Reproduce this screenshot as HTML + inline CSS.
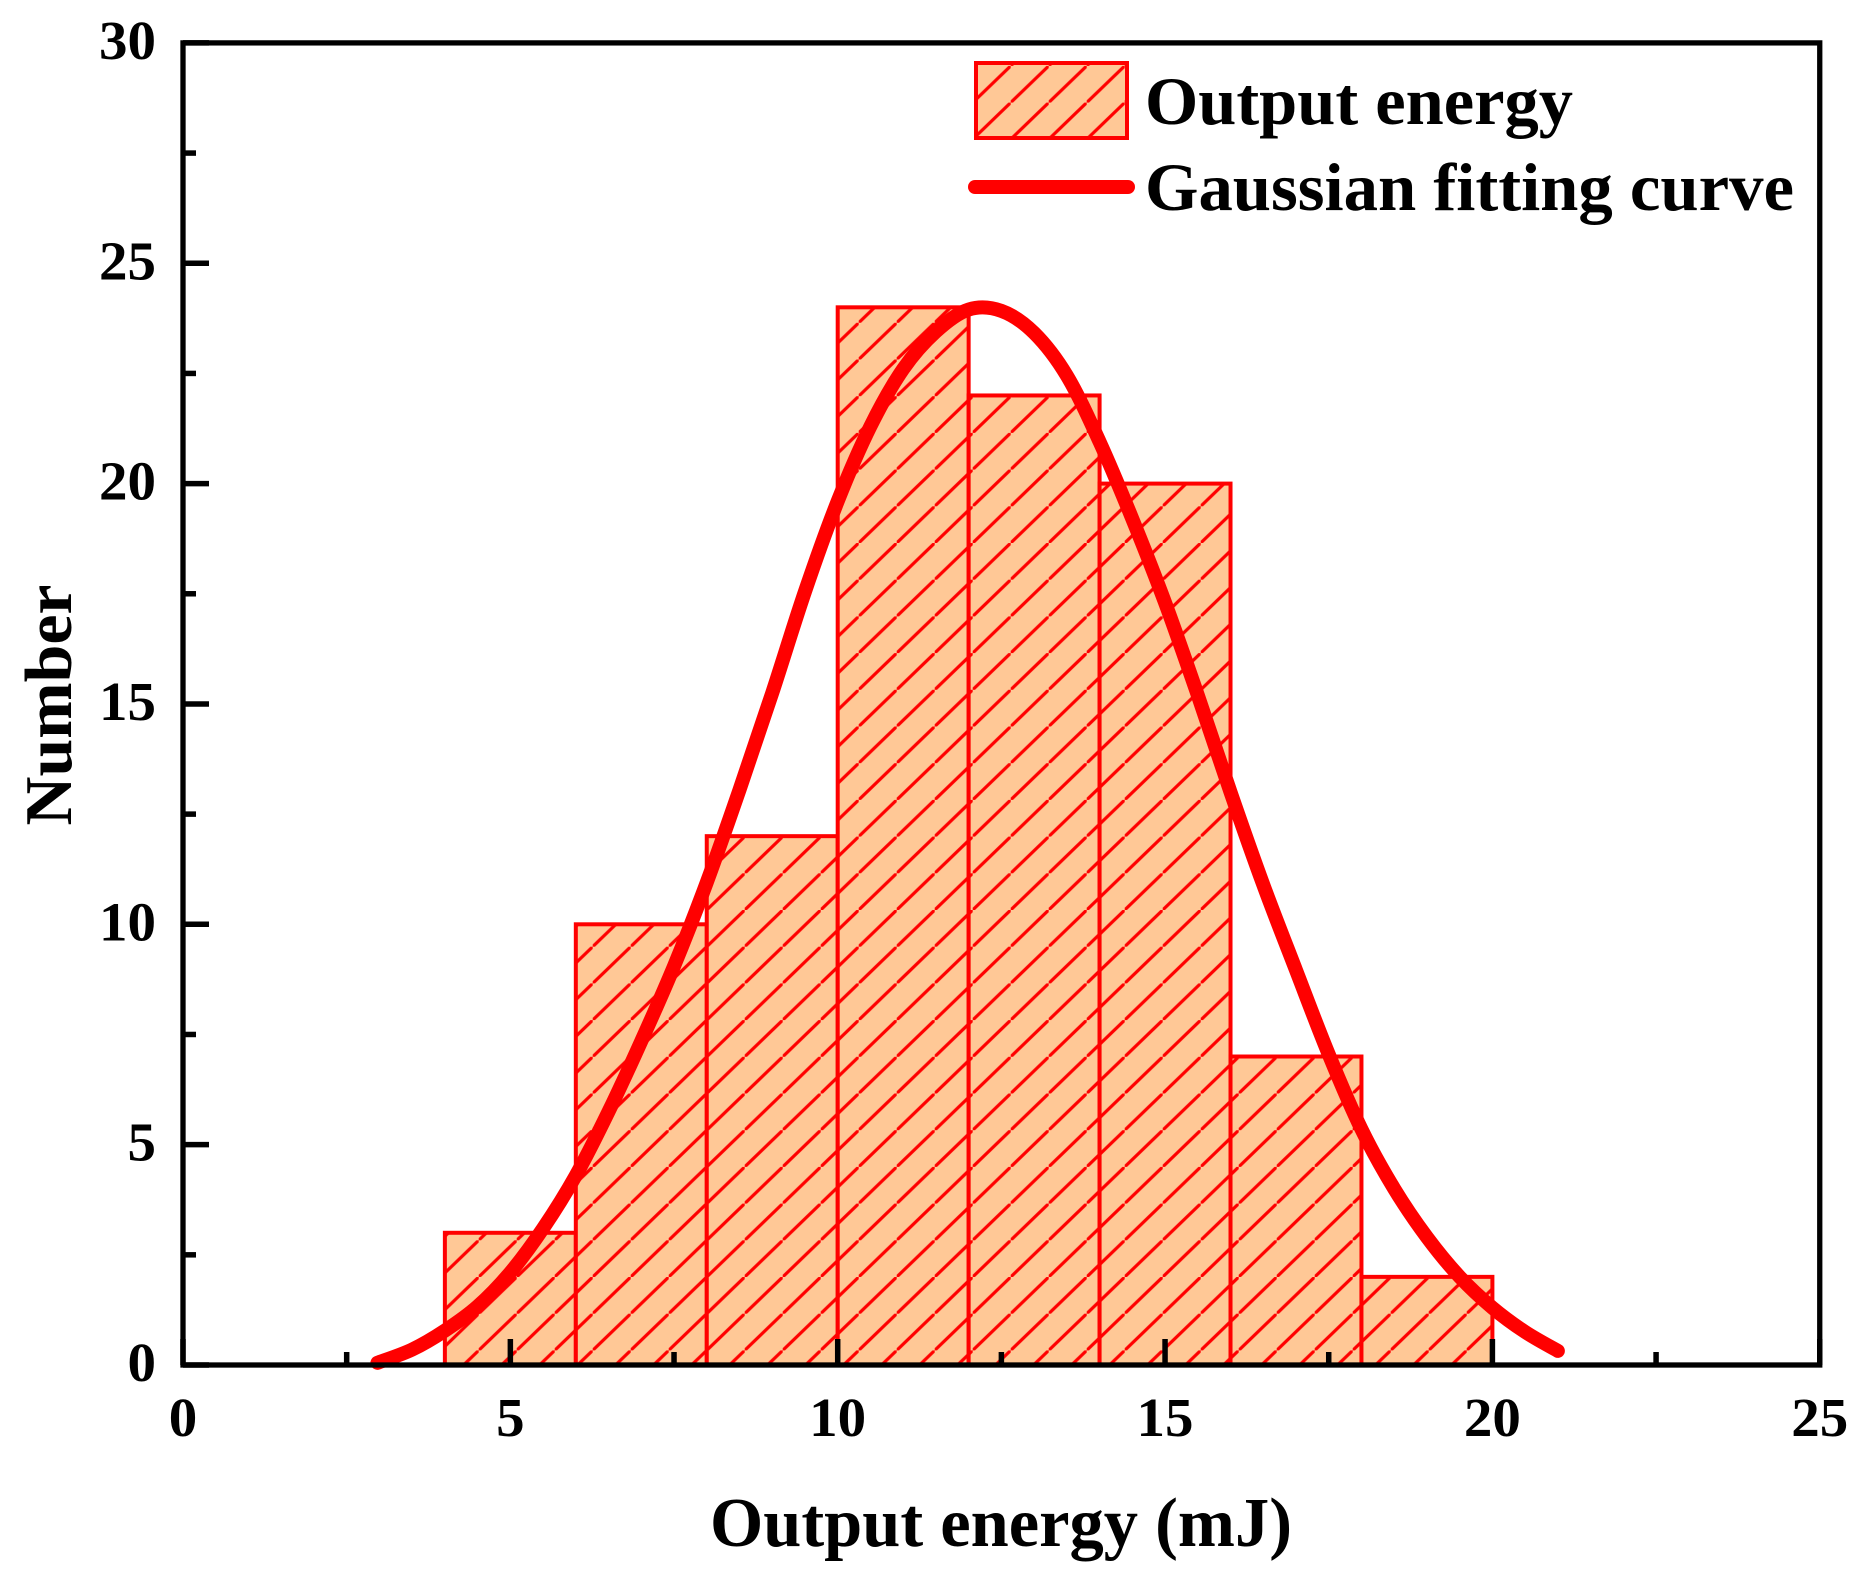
<!DOCTYPE html>
<html lang="en">
<head>
<meta charset="utf-8">
<title>Output energy histogram</title>
<style>
html,body{margin:0;padding:0;background:#fff;}
svg{display:block;}
text{font-family:"Liberation Serif",serif;font-weight:bold;fill:#000;}
</style>
</head>
<body>
<svg id="chart" xmlns="http://www.w3.org/2000/svg" width="1869" height="1581" viewBox="0 0 1869 1581">
<defs>
<pattern id="hatch" patternUnits="userSpaceOnUse" x="706.7" y="910" width="38" height="36.7">
<rect width="38" height="36.7" fill="#FFC896"/>
<path d="M-6 42.5L0 36.7L38 0L44 -5.8" stroke="#ff0000" stroke-width="3.2" fill="none"/>
</pattern>
</defs>
<g id="bars"></g>
<path id="curve" fill="none" stroke="#ff0000" stroke-width="14" stroke-linecap="round" stroke-linejoin="round"/>
<g id="axes"></g>
<g id="labels"></g>
<text x="1001" y="1546" text-anchor="middle" font-size="70" textLength="582" lengthAdjust="spacingAndGlyphs">Output energy (mJ)</text>
<text transform="translate(71 705) rotate(-90)" text-anchor="middle" font-size="67" textLength="241" lengthAdjust="spacingAndGlyphs">Number</text>
<g>
<rect x="976" y="63" width="151" height="75" fill="url(#hatch)" stroke="#ff0000" stroke-width="4"/>
<text x="1145" y="124" font-size="68" textLength="428" lengthAdjust="spacingAndGlyphs">Output energy</text>
<line x1="975" y1="187" x2="1128" y2="187" stroke="#ff0000" stroke-width="14" stroke-linecap="round"/>
<text x="1145" y="210" font-size="68" textLength="649" lengthAdjust="spacingAndGlyphs">Gaussian fitting curve</text>
</g>
</svg>
<script>
const binEdges = [4, 6, 8, 10, 12, 14, 16, 18, 20];
const binCounts = [3, 10, 12, 24, 22, 20, 7, 2];
const curveX = [2.97, 3.5, 4, 4.5, 5, 5.5, 6, 6.5, 7, 7.5, 8, 8.5, 9, 9.5, 10, 10.5, 11, 11.5, 12, 12.5, 13, 13.5, 14, 14.5, 15, 15.5, 16, 16.5, 17, 17.5, 18, 18.5, 19, 19.5, 20, 20.5, 21];
const curveY = [0.05, 0.35, 0.78, 1.33, 2.1, 3.1, 4.3, 5.75, 7.35, 9.05, 10.95, 13.05, 15.25, 17.55, 19.6, 21.3, 22.6, 23.45, 23.95, 23.92, 23.42, 22.45, 20.95, 19.2, 17.3, 15.2, 13.0, 10.9, 8.96, 7.05, 5.35, 4.0, 2.9, 2.0, 1.3, 0.75, 0.32];
const xTicks = [0, 5, 10, 15, 20, 25];
const yTicks = [0, 5, 10, 15, 20, 25, 30];
const xMinorTicks = [2.5, 7.5, 12.5, 17.5, 22.5];
const yMinorTicks = [2.5, 7.5, 12.5, 17.5, 22.5, 27.5];

const NS = 'http://www.w3.org/2000/svg';
const sx = v => 183 + v * 65.47;
const sy = v => 1365 - v * 44.07;

function mk(parent, tag, attrs) {
  const el = document.createElementNS(NS, tag);
  for (const k in attrs) el.setAttribute(k, attrs[k]);
  parent.appendChild(el);
  return el;
}

const barsG = document.getElementById('bars');
binCounts.forEach((c, i) => {
  const r = mk(barsG, 'rect', {
    x: sx(binEdges[i]), y: sy(c),
    width: sx(binEdges[i + 1]) - sx(binEdges[i]),
    height: sy(0) - sy(c),
    fill: 'url(#hatch)', stroke: '#ff0000', 'stroke-width': 4
  });
  
  
});

const pts = curveX.map((x, i) => [sx(x), sy(curveY[i])]);
let d = 'M' + pts[0][0] + ' ' + pts[0][1];
for (let i = 0; i < pts.length - 1; i++) {
  const p0 = pts[Math.max(i - 1, 0)], p1 = pts[i], p2 = pts[i + 1], p3 = pts[Math.min(i + 2, pts.length - 1)];
  d += ' C' + (p1[0] + (p2[0] - p0[0]) / 6) + ' ' + (p1[1] + (p2[1] - p0[1]) / 6) + ' ' +
       (p2[0] - (p3[0] - p1[0]) / 6) + ' ' + (p2[1] - (p3[1] - p1[1]) / 6) + ' ' + p2[0] + ' ' + p2[1];
}
document.getElementById('curve').setAttribute('d', d);

const axesG = document.getElementById('axes');
const frame = mk(axesG, 'rect', {
  x: sx(0), y: sy(30), width: sx(25) - sx(0), height: sy(0) - sy(30),
  fill: 'none', stroke: '#000', 'stroke-width': 5.3
});



function xTick(v, len) {
  const t = mk(axesG, 'line', { x1: sx(v), x2: sx(v), y1: sy(0), y2: sy(0) - len, stroke: '#000', 'stroke-width': 5.5 });
  
  
}
function yTick(v, len) {
  const t = mk(axesG, 'line', { x1: sx(0), x2: sx(0) + len, y1: sy(v), y2: sy(v), stroke: '#000', 'stroke-width': 5.5 });
  
  
}
xTicks.forEach(v => xTick(v, 26));
yTicks.forEach(v => yTick(v, 26));
xMinorTicks.forEach(v => xTick(v, 13));
yMinorTicks.forEach(v => yTick(v, 13));

const labelsG = document.getElementById('labels');
xTicks.forEach(v => {
  const s = String(v);
  const t = mk(labelsG, 'text', { x: sx(v), y: 1436, 'text-anchor': 'middle', 'font-size': 55, textLength: 28.5 * s.length, lengthAdjust: 'spacingAndGlyphs' });
  
  
  t.textContent = s;
});
yTicks.forEach(v => {
  const s = String(v);
  const t = mk(labelsG, 'text', { x: 156, y: sy(v) + 16, 'text-anchor': 'end', 'font-size': 55, textLength: 28.5 * s.length, lengthAdjust: 'spacingAndGlyphs' });
  
  
  t.textContent = s;
});
</script>
</body>
</html>
